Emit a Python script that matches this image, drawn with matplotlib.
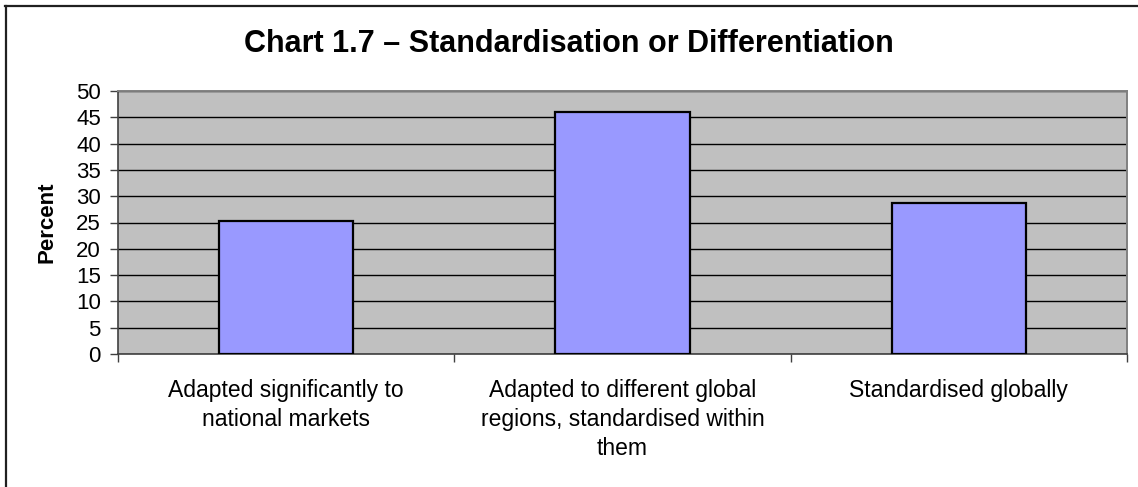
import matplotlib
matplotlib.use("Agg")
import matplotlib.pyplot as plt
from matplotlib.lines import Line2D

categories = ["Adapted significantly to\nnational markets",
              "Adapted to different global\nregions, standardised within\nthem",
              "Standardised globally"]
values = [25.2, 46.0, 28.7]
yticks = [0, 5, 10, 15, 20, 25, 30, 35, 40, 45, 50]
title = "Chart 1.7 \u2013 Standardisation or Differentiation"
ylabel = "Percent"

plt.rcParams['font.family'] = ['Liberation Sans', 'DejaVu Sans']

W, H = 1138, 487
fig = plt.figure(figsize=(W / 100, H / 100), dpi=100)
fig.patch.set_facecolor('white')
# partial chart border (top and left only are visible in the reference)
fig.lines.append(Line2D([5 / W, 1.0], [1 - 5.5 / H, 1 - 5.5 / H], transform=fig.transFigure,
                        color='#202020', linewidth=1.6))
fig.lines.append(Line2D([5.5 / W, 5.5 / W], [0.0, 1 - 5.5 / H], transform=fig.transFigure,
                        color='#202020', linewidth=1.6))

ax = fig.add_axes([118 / W, (H - 354) / H, (1127 - 118) / W, (354 - 91) / H])
ax.set_facecolor('#C0C0C0')
x = list(range(len(categories)))
ax.bar(x, values, width=0.4, color='#9999FF', edgecolor='black', linewidth=1.6, zorder=3)
ax.set_xlim(-0.5, len(categories) - 0.5)
ax.set_ylim(0, 50)
ax.set_yticks(yticks)
ax.set_yticklabels([str(v) for v in yticks], fontsize=16)
ax.yaxis.grid(True, color='black', linewidth=1.0, zorder=1)
ax.set_axisbelow(True)

ax.set_xticks([i - 0.5 for i in range(len(categories) + 1)])
ax.set_xticklabels([''] * (len(categories) + 1))
ax.set_xticks(x, minor=True)
ax.set_xticklabels(categories, minor=True, fontsize=16.5, linespacing=1.33)
ax.tick_params(axis='x', which='minor', length=0, pad=18)
ax.tick_params(axis='x', which='major', length=5.8, width=1, color='#404040')
ax.tick_params(axis='y', length=5.8, width=1, color='#404040', pad=6.5)

for s in ['top', 'right']:
    ax.spines[s].set_color('#808080')
    ax.spines[s].set_linewidth(1.4)
for s in ['left', 'bottom']:
    ax.spines[s].set_color('#404040')
    ax.spines[s].set_linewidth(1.2)

ax.set_ylabel(ylabel, fontsize=16, fontweight='bold')
ax.yaxis.set_label_coords(-(118 - 58) / (1127 - 118), 0.5)
fig.text(569 / W, (H - 52) / H, title, ha='center', va='baseline', fontsize=22, fontweight='bold')

fig.savefig('out.png', dpi=100)
